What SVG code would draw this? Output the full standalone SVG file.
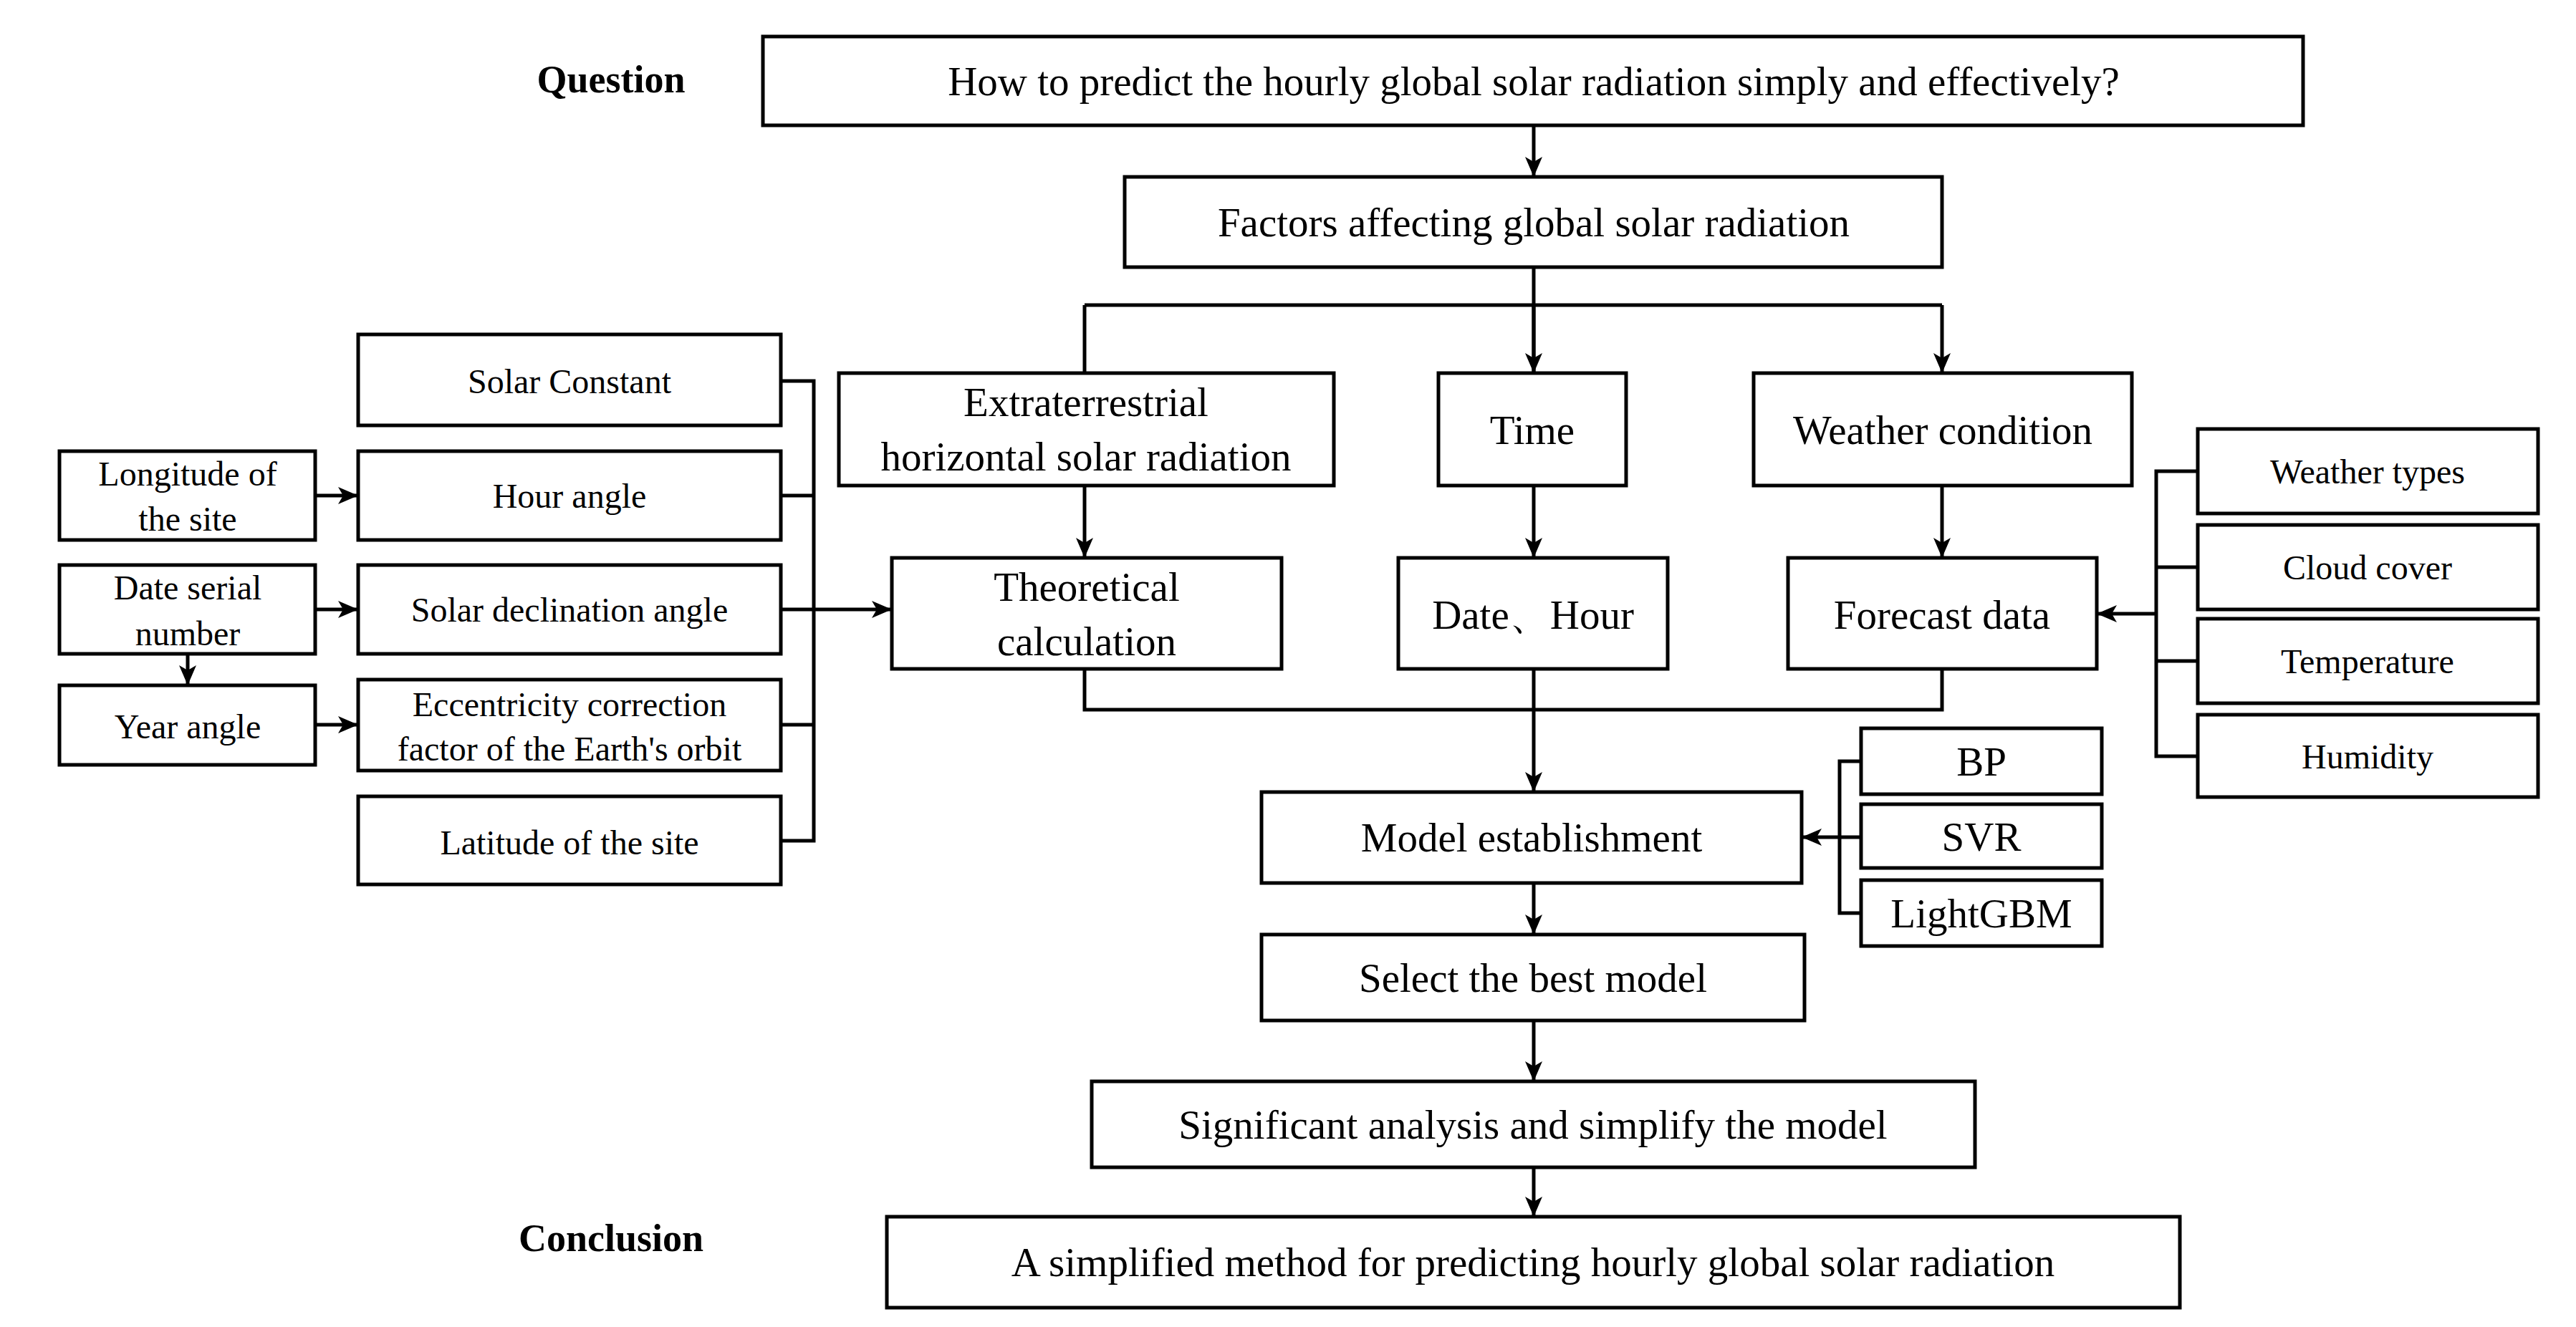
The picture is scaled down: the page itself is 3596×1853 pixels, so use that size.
<svg xmlns="http://www.w3.org/2000/svg" width="3596" height="1853" viewBox="0 0 3596 1853">
<style>
rect{fill:#fff;stroke:#000;stroke-width:5}
text{font-family:"Liberation Serif","Times New Roman",serif;fill:#000;text-anchor:middle;dominant-baseline:central}
.s{font-size:48px}.l{font-size:57px}.b{font-size:54px;font-weight:bold}
#c path{fill:none;stroke:#000;stroke-width:5}
</style>
<defs><marker id="a" markerUnits="userSpaceOnUse" markerWidth="30" markerHeight="24" refX="28" refY="12" orient="auto"><path d="M0,0L28,12L0,24L7,12Z" fill="#000"/></marker></defs>
<text class="b" x="853" y="111">Question</text>
<text class="b" x="853" y="1729">Conclusion</text>
<g id="c">
<path d="M2141,175V247" marker-end="url(#a)"/>
<path d="M2141,373V521M1514,426H2711M1514,426V521M2711,426V521" marker-end="url(#a)"/>
<path d="M2141,426V521" marker-end="url(#a)"/>
<path d="M1514,678V779" marker-end="url(#a)"/>
<path d="M2141,678V779" marker-end="url(#a)"/>
<path d="M2711,678V779" marker-end="url(#a)"/>
<path d="M1514,934V991H2711V934M2141,934V1106" marker-end="url(#a)"/>
<path d="M2141,1233V1305" marker-end="url(#a)"/>
<path d="M2141,1425V1510" marker-end="url(#a)"/>
<path d="M2141,1630V1699" marker-end="url(#a)"/>
<path d="M2598,1063H2568V1275H2598M2598,1169H2515" marker-end="url(#a)"/>
<path d="M3068,658H3010V1056H3068M3068,792H3010M3068,923H3010M3010,857H2927" marker-end="url(#a)"/>
<path d="M1090,532H1136V1174H1090M1090,692H1136M1090,1012H1136M1090,851H1245" marker-end="url(#a)"/>
<path d="M440,692H500" marker-end="url(#a)"/>
<path d="M440,851H500" marker-end="url(#a)"/>
<path d="M440,1012H500" marker-end="url(#a)"/>
<path d="M262,913V957" marker-end="url(#a)"/>
</g>
<g id="q"><rect x="1065" y="51" width="2150" height="124"/><text class="l" x="2141" y="113">How to predict the hourly global solar radiation  simply and effectively?</text></g>
<g id="f"><rect x="1570" y="247" width="1141" height="126"/><text class="l" x="2141" y="310">Factors affecting  global solar radiation</text></g>
<g id="ext"><rect x="1171" y="521" width="691" height="157"/><text class="l" x="1516" y="561">Extraterrestrial</text><text class="l" x="1516" y="637">horizontal solar radiation</text></g>
<g id="time"><rect x="2008" y="521" width="262" height="157"/><text class="l" x="2139" y="600">Time</text></g>
<g id="wc"><rect x="2448" y="521" width="528" height="157"/><text class="l" x="2712" y="600">Weather condition</text></g>
<g id="tc"><rect x="1245" y="779" width="544" height="155"/><text class="l" x="1517" y="819">Theoretical</text><text class="l" x="1517" y="895">calculation</text></g>
<g id="dh"><rect x="1952" y="779" width="376" height="155"/><text class="l" x="2140" y="858">Date、Hour</text></g>
<g id="fd"><rect x="2496" y="779" width="431" height="155"/><text class="l" x="2711" y="858">Forecast data</text></g>
<g id="me"><rect x="1761" y="1106" width="754" height="127"/><text class="l" x="2138" y="1169">Model establishment</text></g>
<g id="bp"><rect x="2598" y="1017" width="336" height="92"/><text class="l" x="2766" y="1063">BP</text></g>
<g id="svr"><rect x="2598" y="1123" width="336" height="89"/><text class="l" x="2766" y="1168">SVR</text></g>
<g id="lgb"><rect x="2598" y="1229" width="336" height="92"/><text class="l" x="2766" y="1275">LightGBM</text></g>
<g id="sb"><rect x="1761" y="1305" width="758" height="120"/><text class="l" x="2140" y="1365">Select the best model</text></g>
<g id="sa"><rect x="1524" y="1510" width="1233" height="120"/><text class="l" x="2140" y="1570">Significant analysis and simplify the model</text></g>
<g id="fin"><rect x="1238" y="1699" width="1805" height="127"/><text class="l" x="2140" y="1762">A simplified method for predicting hourly  global solar radiation</text></g>
<g id="wt"><rect x="3068" y="599" width="475" height="118"/><text class="s" x="3305" y="658">Weather types</text></g>
<g id="cc"><rect x="3068" y="733" width="475" height="118"/><text class="s" x="3305" y="792">Cloud cover</text></g>
<g id="tp"><rect x="3068" y="864" width="475" height="118"/><text class="s" x="3305" y="923">Temperature</text></g>
<g id="hu"><rect x="3068" y="998" width="475" height="115"/><text class="s" x="3305" y="1056">Humidity</text></g>
<g id="sc"><rect x="500" y="467" width="590" height="127"/><text class="s" x="795" y="532">Solar Constant</text></g>
<g id="ha"><rect x="500" y="630" width="590" height="124"/><text class="s" x="795" y="692">Hour angle</text></g>
<g id="sd"><rect x="500" y="789" width="590" height="124"/><text class="s" x="795" y="851">Solar declination angle</text></g>
<g id="ec"><rect x="500" y="949" width="590" height="127"/><text class="s" x="795" y="983">Eccentricity correction</text><text class="s" x="795" y="1045">factor of the Earth's orbit</text></g>
<g id="la"><rect x="500" y="1112" width="590" height="123"/><text class="s" x="795" y="1176">Latitude of the site</text></g>
<g id="lo"><rect x="83" y="630" width="357" height="124"/><text class="s" x="262" y="661">Longitude of</text><text class="s" x="262" y="724">the site</text></g>
<g id="ds"><rect x="83" y="789" width="357" height="124"/><text class="s" x="262" y="820">Date serial</text><text class="s" x="262" y="884">number</text></g>
<g id="ya"><rect x="83" y="957" width="357" height="111"/><text class="s" x="262" y="1014">Year angle</text></g>
</svg>
